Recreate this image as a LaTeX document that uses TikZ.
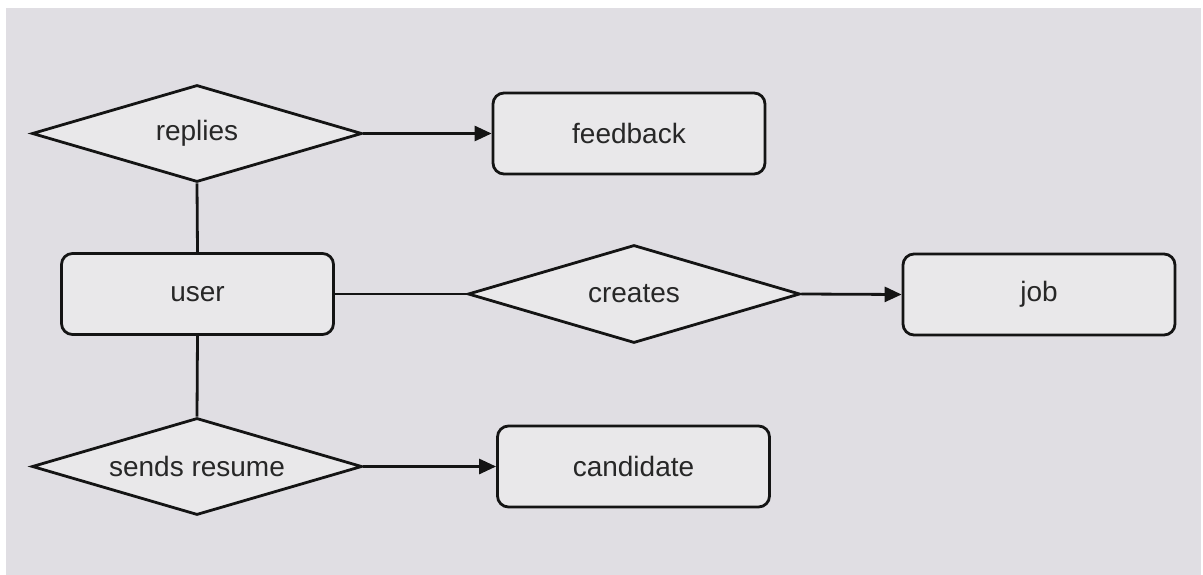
\documentclass[tikz,border=0pt]{standalone}
\usepackage{fontspec}
\setmainfont{Liberation Sans}
\usetikzlibrary{shapes.geometric,arrows.meta}
\definecolor{canvas}{RGB}{224,222,227}
\definecolor{boxfill}{RGB}{233,232,234}
\definecolor{ink}{RGB}{20,20,20}
% zero-width label so a diamond keeps its set size
\newcommand\flatlabel[1]{\makebox[0pt]{#1}}
\begin{document}
\begin{tikzpicture}[x=1pt,y=-1pt,
  every node/.style={font=\fontsize{28}{32}\selectfont, text=ink!92},
  entity/.style={draw=ink, fill=boxfill, line width=2.8pt, rounded corners=11pt,
    minimum width=272pt, minimum height=81pt, inner sep=0pt},
  relation/.style={draw=ink, fill=boxfill, line width=2.8pt, diamond,
    minimum width=330pt, minimum height=97pt, inner sep=0pt},
  link/.style={draw=ink, line width=2.8pt},
  flow/.style={link, -{Triangle[length=17pt,width=15pt]}}]
\useasboundingbox (0,0) rectangle (1203,575);
\fill[white] (0,0) rectangle (1203,575);
\fill[canvas] (6,8) rectangle (1201,575);

% relationship diamonds
\node[relation] (replies) at (197,133.5) {\flatlabel{replies}};
\node[relation, minimum width=332pt, minimum height=98pt] (creates) at (634,294) {\flatlabel{creates}};
\node[relation] (sends) at (197,466.5) {\flatlabel{sends resume}};

% entity boxes
\node[entity] (feedback) at (629,133.5) {feedback};
\node[entity] (user) at (197.5,294) {user};
\node[entity] (job) at (1039,294.5) {job};
\node[entity] (candidate) at (633.5,466.5) {candidate};

% connectors
\draw[link] (replies.south) -- (user.north);
\draw[link] (user.south) -- (sends.north);
\draw[link] (user.east) -- (creates.west);
\draw[flow] (replies.east) -- (feedback.west);
\draw[flow] (creates.east) -- (job.west);
\draw[flow] (sends.east) -- (candidate.west);
\end{tikzpicture}
\end{document}
